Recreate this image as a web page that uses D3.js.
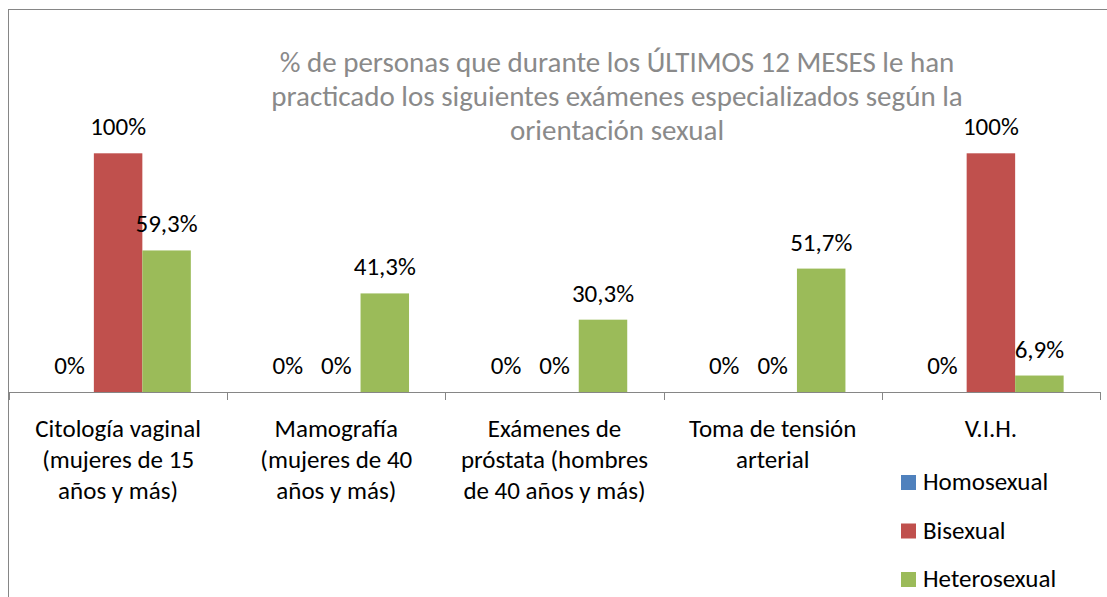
<!DOCTYPE html>
<html>
<head>
<meta charset="utf-8">
<script src="https://cdn.jsdelivr.net/npm/d3@7"></script>
<style>
  body { margin: 0; background: #fff; }
  svg { display: block; font-family: Carlito, Calibri, Lato, sans-serif; }
</style>
</head>
<body>
<svg id="chart" width="1107" height="597"></svg>
<script>
const CATEGORIES = [
  ["Citología vaginal", "(mujeres de 15", "años y más)"],
  ["Mamografía", "(mujeres de 40", "años y más)"],
  ["Exámenes de", "próstata (hombres", "de 40 años y más)"],
  ["Toma de tensión", "arterial"],
  ["V.I.H."]
];
const SERIES = ["Homosexual", "Bisexual", "Heterosexual"];
const HOMOSEXUAL = [0, 0, 0, 0, 0];
const BISEXUAL = [100, 0, 0, 0, 100];
const HETEROSEXUAL = [59.3, 41.3, 30.3, 51.7, 6.9];
const COLORS = ["#4F81BD", "#C0504D", "#9BBB59"];
const TITLE = [
  "% de personas que durante los ÚLTIMOS 12 MESES le han",
  "practicado los siguientes exámenes especializados según la",
  "orientación sexual"
];

const svg = d3.select('#chart');
const catIdx = CATEGORIES.map((c, i) => i);
const values = [HOMOSEXUAL, BISEXUAL, HETEROSEXUAL];
const LABEL_SIZE = '25px';

// chart area border (top and left visible, rest cropped)
svg.append('rect')
  .attr('x', 8.5).attr('y', 9.5)
  .attr('width', 1120).attr('height', 620)
  .attr('fill', 'none')
  .attr('stroke', '#868686')
  .attr('stroke-width', 1);

const x = d3.scaleBand().domain(catIdx).range([9, 1100]);
const xs = d3.scaleBand().domain(SERIES).range([0, x.bandwidth()]).paddingOuter(0.75);
const y = d3.scaleLinear().domain([0, 100]).range([392, 153.3]);

// bars
SERIES.forEach((s, si) => {
  const g = svg.append('g').attr('class', 'series');
  g.selectAll('rect')
    .data(values[si])
    .join('rect')
    .attr('x', (d, i) => x(i) + xs(s))
    .attr('y', d => y(d))
    .attr('width', xs.bandwidth())
    .attr('height', d => y(0) - y(d))
    .attr('fill', COLORS[si]);

  g.selectAll('text')
    .data(values[si])
    .join('text')
    .attr('x', (d, i) => x(i) + xs(s) + xs.bandwidth() / 2)
    .attr('y', d => y(d) - 18)
    .attr('text-anchor', 'middle')
    .attr('font-size', LABEL_SIZE)
    .attr('fill', '#000')
    .text(d => String(d).replace('.', ',') + '%');
});

// x axis
const axis = svg.append('g').attr('transform', `translate(0,${y(0)})`);
axis.append('line')
  .attr('x1', 9).attr('x2', 1100)
  .attr('y1', 0.5).attr('y2', 0.5)
  .attr('stroke', '#868686');
axis.selectAll('.tick')
  .data(catIdx.concat([CATEGORIES.length]))
  .join('line')
  .attr('class', 'tick')
  .attr('x1', d => Math.round(d < CATEGORIES.length ? x(d) : x.range()[1]) + 0.5)
  .attr('x2', d => Math.round(d < CATEGORIES.length ? x(d) : x.range()[1]) + 0.5)
  .attr('y1', 0).attr('y2', 8)
  .attr('stroke', '#868686');

// category labels
catIdx.forEach(i => {
  const t = svg.append('text')
    .attr('text-anchor', 'middle')
    .attr('font-size', LABEL_SIZE)
    .attr('fill', '#000');
  CATEGORIES[i].forEach((line, li) => {
    t.append('tspan')
      .attr('x', x(i) + x.bandwidth() / 2)
      .attr('y', 437 + li * 31)
      .text(line);
  });
});

// title
const title = svg.append('text')
  .attr('text-anchor', 'middle')
  .attr('font-size', '29px')
  .attr('fill', '#8a8a8a');
TITLE.forEach((line, li) => {
  title.append('tspan')
    .attr('x', 617)
    .attr('y', 72 + li * 34)
    .text(line);
});

// legend
const legend = svg.append('g').attr('transform', 'translate(901,475)');
SERIES.forEach((s, si) => {
  const row = legend.append('g').attr('transform', `translate(0,${si * 48.5})`);
  row.append('rect')
    .attr('width', 15).attr('height', 15)
    .attr('fill', COLORS[si]);
  row.append('text')
    .attr('x', 22).attr('y', 15)
    .attr('font-size', LABEL_SIZE)
    .attr('fill', '#000')
    .text(s);
});
</script>
</body>
</html>
